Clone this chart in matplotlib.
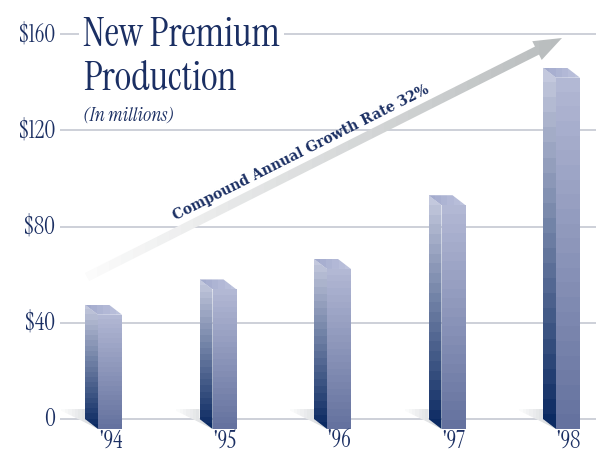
import numpy as np
import matplotlib
matplotlib.use("Agg")
import matplotlib.pyplot as plt
from matplotlib.patches import Polygon
from matplotlib.colors import LinearSegmentedColormap

# ---- data ----
years = ["'94", "'95", "'96", "'97", "'98"]
premium = [47.5, 58.0, 66.5, 93.0, 146.0]
yticks = [0, 40, 80, 120, 160]
ytick_labels = ["0", "$40", "$80", "$120", "$160"]
title_lines = ["New Premium", "Production"]
subtitle = "(In millions)"
arrow_label = "Compound Annual Growth Rate 32%"

NAVY = "#1b2f63"
GRID = "#c9cdd6"
SERIF = ["Instrument Serif", "Liberation Serif", "DejaVu Serif"]

W, H = 596, 455
fig = plt.figure(figsize=(W / 100, H / 100), dpi=100)
AX_L = 60
ax = fig.add_axes([AX_L / W, 0, (W - AX_L) / W, 1])

# pixel geometry (layout only)
X0, XS = 110.0, 114.5        # px of category 0 centre, px per category
Y0, PPU = 419.0, 96.25 / 40  # px of zero line, px per unit
xlim = ((AX_L - X0) / XS, (W - X0) / XS)
ylim = (-(H - Y0) / PPU, Y0 / PPU)


def px(xp, yp):
    return ((xp - X0) / XS, (Y0 - yp) / PPU)


def grad_fill(poly, c0, c1, steps=24, horizontal=False, z=3):
    poly = np.asarray(poly)
    patch = Polygon(poly, closed=True, facecolor="none", edgecolor="none", zorder=z)
    ax.add_patch(patch)
    cmap = LinearSegmentedColormap.from_list("g", [c0, c1], N=steps)
    g = np.linspace(0, 1, steps)
    arr = g.reshape(1, -1) if horizontal else g.reshape(-1, 1)
    x0, y0 = poly.min(axis=0)
    x1, y1 = poly.max(axis=0)
    im = ax.imshow(arr, cmap=cmap, origin="lower", extent=(x0, x1, y0, y1),
                   aspect="auto", interpolation="nearest", zorder=z)
    im.set_clip_path(patch)


# grid
for t in yticks:
    ax.axhline(t, color=GRID, lw=1.3, zorder=1)

# bars (3D look)
hw = 12 / XS
ddx = 13 / XS
ddy = 10 / PPU
shw = 27 / XS
for i, v in enumerate(premium):
    xl = i - hw - ddx
    # floor shadow
    grad_fill([(xl - shw, ddy), (xl, ddy), (xl, 0), (i - hw, -ddy)],
              "#ffffff", "#d2d5d8", steps=12, horizontal=True, z=2)
    # left side face
    grad_fill([(xl, 0), (xl, v), (i - hw, v - ddy), (i - hw, -ddy)],
              "#0b2a62", "#c3c8dd", z=3)
    # front face
    grad_fill([(i - hw, -ddy), (i - hw, v - ddy), (i + hw, v - ddy), (i + hw, -ddy)],
              "#65729f", "#b2b8d4", z=3)
    # top face
    grad_fill([(xl, v), (i + hw - ddx, v), (i + hw, v - ddy), (i - hw, v - ddy)],
              "#a3abcd", "#bcc2dc", steps=6, horizontal=True, z=3)
    ax.text(i, (Y0 - 441) / PPU, years[i], ha="center", va="center",
            fontsize=17, color=NAVY, family=SERIF, zorder=5)

# arrow
T = np.array([87.0, 277.0])
P = np.array([562.0, 38.0])
u = (P - T) / np.linalg.norm(P - T)
n = np.array([-u[1], u[0]])
B = P - u * 28
sw, hwid = 4.5, 10.5
pts = [T + n * sw, B + n * sw, B + n * hwid, P, B - n * hwid, B - n * sw, T - n * sw]
grad_fill([px(*p) for p in pts], "#fbfbfb", "#b9bdbe", steps=40, horizontal=True, z=4)

ang = np.degrees(np.arctan2(T[1] - P[1], P[0] - T[0]))
cx, cy = px(301, 153)
ax.text(cx, cy, arrow_label, rotation=ang, rotation_mode="anchor", ha="center",
        va="center", fontsize=10, fontweight="bold", family="DejaVu Serif",
        color=NAVY, zorder=6)

# y tick labels
for t, lab in zip(yticks, ytick_labels):
    ax.text(px(55, 0)[0], t, lab, ha="right", va="center", fontsize=17,
            color=NAVY, family=SERIF, clip_on=False, zorder=5)

# title
tx, ty = px(83, 46)
ax.text(tx, ty, title_lines[0], ha="left", va="baseline", fontsize=29,
        family=SERIF, color=NAVY, zorder=7,
        bbox=dict(facecolor="white", edgecolor="none", pad=3))
tx, ty = px(83, 90)
ax.text(tx, ty, title_lines[1], ha="left", va="baseline", fontsize=29,
        family=SERIF, color=NAVY, zorder=7)
tx, ty = px(83, 121)
ax.text(tx, ty, subtitle, ha="left", va="baseline", fontsize=14, style="italic",
        family=SERIF, color=NAVY, zorder=7)

ax.set_xlim(*xlim)
ax.set_ylim(*ylim)
ax.axis("off")
fig.savefig("out.png", dpi=100)
